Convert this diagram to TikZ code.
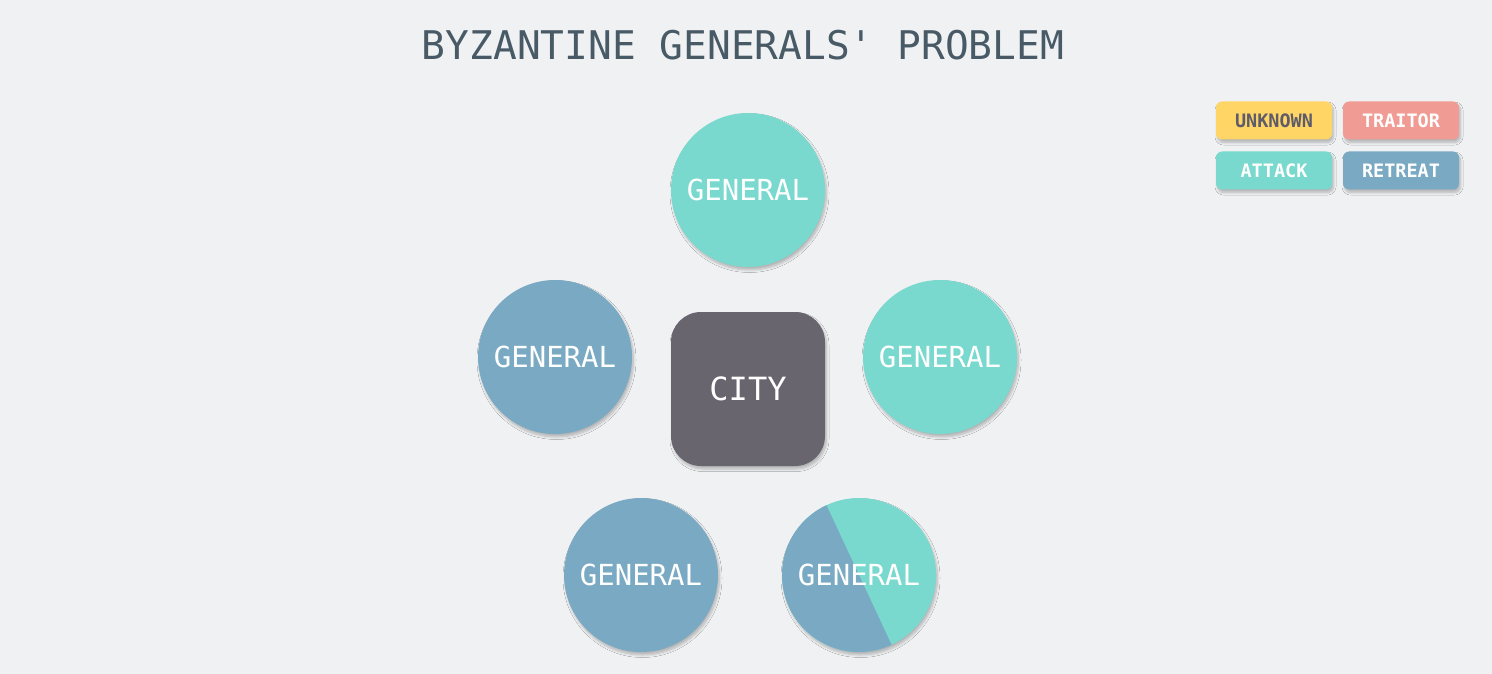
\documentclass[tikz,border=0pt]{standalone}
\usepackage{fontspec}
\setmonofont{DejaVu Sans Mono}
\usetikzlibrary{shadows.blur}
\usetikzlibrary{calc}

\definecolor{bg}{HTML}{EFF1F3}
\definecolor{titlecol}{HTML}{485A66}
\definecolor{attack}{HTML}{79D9CE}
\definecolor{retreat}{HTML}{79A9C3}
\definecolor{citycol}{HTML}{68656F}
\definecolor{unknown}{HTML}{FFD665}
\definecolor{traitor}{HTML}{F19B95}
\definecolor{unknowntext}{HTML}{5E5C6A}

\tikzset{
  soft/.style={blur shadow={shadow xshift=1.5pt,shadow yshift=-3pt,shadow blur radius=2.5pt,shadow blur steps=6,shadow opacity=25}},
  general/.style={circle,soft,minimum size=154pt,inner sep=0pt,text=white,
    font=\ttfamily\fontsize{29}{34}\selectfont},
  city/.style={rounded corners=30pt,soft,fill=citycol,minimum size=154pt,inner sep=0pt,text=white,
    font=\ttfamily\fontsize{32}{38}\selectfont},
  legend/.style={rounded corners=6pt,soft,minimum width=116pt,minimum height=38pt,inner sep=0pt,text=white,
    font=\ttfamily\bfseries\fontsize{18.5}{22}\selectfont}
}

\begin{document}
\begin{tikzpicture}[x=1pt,y=-1pt]
		\fill[bg] (0,0) rectangle (1492,674);
		\useasboundingbox (0,0) rectangle (1492,674);

		\node[text=titlecol,font=\ttfamily\fontsize{39.5}{46}\selectfont] (title) at (743,45) {BYZANTINE GENERALS' PROBLEM};

		% legend
		\node[legend,fill=unknown,text=unknowntext] (unknown) at (1274,120.5) {UNKNOWN};
		\node[legend,fill=traitor] (traitor) at (1401,120.5) {TRAITOR};
		\node[legend,fill=attack]  (attack)  at (1274,170.5) {ATTACK};
		\node[legend,fill=retreat] (retreat) at (1401,170.5) {RETREAT};

		\node[city] (city) at (748,389) {CITY};

		\node[general,fill=attack]  (g1) at (748,190) {GENERAL};
		\node[general,fill=retreat] (g2) at (555,357) {GENERAL};
		\node[general,fill=attack]  (g3) at (940,357) {GENERAL};
		\node[general,fill=retreat] (g4) at (641,575) {GENERAL};
		\node[general,fill=attack,path picture={
			\coordinate (c) at (path picture bounding box.center);
			\fill[retreat] ($(c)+(115:100pt)$) -- ($(c)+(-65:100pt)$) -- ++(-155:200pt) -- ++(115:200pt) -- cycle;
		}] (g5) at (859,575) {};
		\node[text=white,font=\ttfamily\fontsize{29}{34}\selectfont] (g5label) at (g5.center) {GENERAL};
\end{tikzpicture}
\end{document}
